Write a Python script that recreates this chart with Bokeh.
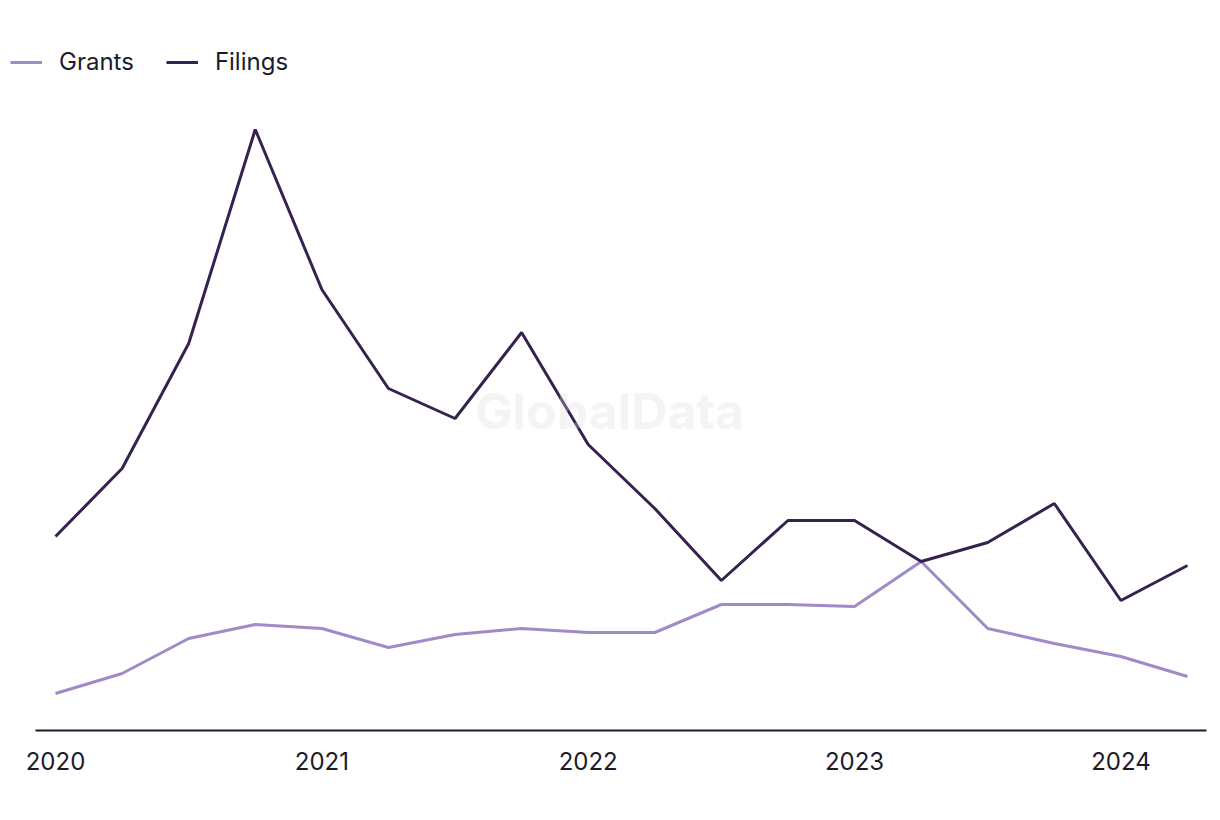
from bokeh.plotting import figure
from bokeh.models import Range1d, FixedTicker, Legend, LegendItem, Label
from bokeh.embed import file_html
from bokeh.resources import INLINE

# Quarterly periods (fractional years), 2020 Q1 .. 2024 Q2
quarters = [2020.0, 2020.25, 2020.5, 2020.75,
            2021.0, 2021.25, 2021.5, 2021.75,
            2022.0, 2022.25, 2022.5, 2022.75,
            2023.0, 2023.25, 2023.5, 2023.75,
            2024.0, 2024.25]
filings = [19.4, 26.2, 38.7, 60.1, 44.1, 34.2, 31.2, 39.8, 28.6,
           22.2, 15.0, 21.0, 21.0, 16.9, 18.8, 22.7, 13.0, 16.5]
grants = [3.7, 5.7, 9.2, 10.6, 10.2, 8.3, 9.6, 10.2, 9.8,
          9.8, 12.6, 12.6, 12.4, 16.9, 10.2, 8.7, 7.4, 5.4]
tick_years = [2020, 2021, 2022, 2023, 2024]
tick_labels = ["2020", "2021", "2022", "2023", "2024"]

FONT = "Inter"
TEXT = "#1b1b2b"
GRANTS_C = "#a08bc6"
FILINGS_C = "#35224f"

W, H = 1212, 800
PX_PER_YEAR = 266.35
X0 = 55  # screen x of 2020
x_start = 2020 - X0 / PX_PER_YEAR
x_end = 2020 + (W - X0) / PX_PER_YEAR

p = figure(width=W, height=H, output_backend="svg", toolbar_location=None,
           x_range=Range1d(x_start, x_end),
           y_range=Range1d(0, 69),
           min_border_left=0, min_border_right=0,
           min_border_top=40, min_border_bottom=70)
p.outline_line_color = None
p.xgrid.visible = False
p.ygrid.visible = False
p.yaxis.visible = False
p.background_fill_color = "white"
p.border_fill_color = "white"

ax = p.xaxis[0]
ax.ticker = FixedTicker(ticks=tick_years)
ax.bounds = (2020 - 20 / PX_PER_YEAR, 2024.25 + 19 / PX_PER_YEAR)
ax.major_label_overrides = {y: l for y, l in zip(tick_years, tick_labels)}
ax.major_tick_line_color = None
ax.minor_tick_line_color = None
ax.axis_line_color = TEXT
ax.axis_line_width = 2
ax.major_label_text_font = FONT
ax.major_label_text_font_size = "24px"
ax.major_label_text_color = TEXT
ax.major_label_standoff = 15

r_g = p.line(quarters, grants, line_color=GRANTS_C, line_width=3)
r_f = p.line(quarters, filings, line_color=FILINGS_C, line_width=3)

wm = Label(x=2022.08, y=32, text="GlobalData", text_font=FONT,
           text_font_size="50px", text_font_style="bold",
           text_color="#d9d9d9", text_alpha=0.3,
           text_align="center", text_baseline="middle")
p.add_layout(wm)

legend = Legend(items=[LegendItem(label="Grants", renderers=[r_g]),
                       LegendItem(label="Filings", renderers=[r_f])],
                orientation="horizontal", location=(10, 654),
                padding=0, margin=0, spacing=32, glyph_width=32, glyph_height=20,
                label_standoff=17, label_text_font=FONT, label_text_font_size="24px",
                label_text_color=TEXT, label_height=20,
                background_fill_alpha=0, border_line_alpha=0)
p.add_layout(legend, "center")

open("out.html", "w").write(file_html(p, INLINE))
